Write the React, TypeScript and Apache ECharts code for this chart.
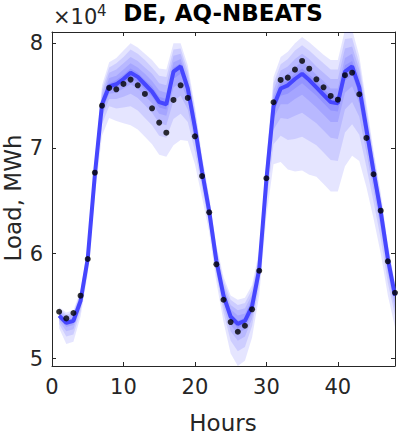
import React, { useEffect, useRef } from "react";
import * as echarts from "echarts";

// Hours of the 48-hour horizon
const hours = [1, 2, 3, 4, 5, 6, 7, 8, 9, 10, 11, 12, 13, 14, 15, 16, 17, 18, 19, 20, 21, 22, 23, 24,
  25, 26, 27, 28, 29, 30, 31, 32, 33, 34, 35, 36, 37, 38, 39, 40, 41, 42, 43, 44, 45, 46, 47, 48];

// Actual load (x10^4 MWh)
const actual = [5.446, 5.383, 5.434, 5.599, 5.948, 6.769, 7.406, 7.575, 7.562, 7.613,
  7.654, 7.600, 7.518, 7.381, 7.245, 7.149, 7.461, 7.600, 7.480, 7.115,
  6.737, 6.392, 5.897, 5.560, 5.348, 5.256, 5.313, 5.469, 5.836, 6.716,
  7.439, 7.651, 7.673, 7.749, 7.832, 7.758, 7.657, 7.581, 7.499, 7.463,
  7.696, 7.720, 7.515, 7.099, 6.754, 6.407, 5.926, 5.627];

// Median forecast (x10^4 MWh)
const median = [5.41, 5.34, 5.36, 5.55, 5.95, 6.75, 7.42, 7.59, 7.61, 7.66,
  7.72, 7.68, 7.61, 7.54, 7.44, 7.42, 7.73, 7.78, 7.57, 7.20,
  6.78, 6.40, 5.93, 5.60, 5.40, 5.33, 5.36, 5.50, 5.85, 6.70,
  7.40, 7.57, 7.60, 7.66, 7.71, 7.65, 7.58, 7.51, 7.44, 7.43,
  7.73, 7.78, 7.58, 7.18, 6.78, 6.40, 5.95, 5.60];

// Quantile bands, outermost (1) to innermost (5)
const lo1 = [5.29, 5.14, 5.16, 5.40, 5.80, 6.55, 7.12, 7.29, 7.26, 7.24, 7.22, 7.18, 7.11, 7.04, 6.94, 6.92, 7.03, 7.08, 7.07, 6.85,
  6.53, 6.20, 5.73, 5.35, 5.05, 4.93, 4.98, 5.20, 5.60, 6.35, 6.85, 6.87, 6.80, 6.78, 6.79, 6.75, 6.73, 6.66, 6.59, 6.59,
  6.83, 6.93, 6.88, 6.63, 6.33, 6.00, 5.60, 5.30];
const lo2 = [5.33, 5.21, 5.23, 5.45, 5.85, 6.62, 7.23, 7.40, 7.38, 7.39, 7.40, 7.36, 7.29, 7.22, 7.12, 7.10, 7.28, 7.33, 7.25, 6.97,
  6.62, 6.27, 5.80, 5.44, 5.17, 5.07, 5.11, 5.31, 5.69, 6.47, 7.04, 7.12, 7.08, 7.09, 7.11, 7.07, 7.03, 6.96, 6.89, 6.88,
  7.15, 7.23, 7.13, 6.82, 6.49, 6.14, 5.72, 5.41];
const lo3 = [5.36, 5.26, 5.28, 5.49, 5.89, 6.67, 7.30, 7.47, 7.47, 7.49, 7.52, 7.48, 7.41, 7.34, 7.24, 7.22, 7.45, 7.50, 7.37, 7.06,
  6.68, 6.32, 5.85, 5.50, 5.26, 5.17, 5.21, 5.38, 5.75, 6.56, 7.18, 7.29, 7.28, 7.31, 7.34, 7.29, 7.24, 7.17, 7.10, 7.09,
  7.37, 7.44, 7.30, 6.96, 6.60, 6.24, 5.81, 5.48];
const lo4 = [5.38, 5.30, 5.32, 5.52, 5.92, 6.71, 7.35, 7.52, 7.53, 7.57, 7.61, 7.57, 7.50, 7.43, 7.33, 7.31, 7.58, 7.63, 7.46, 7.12,
  6.73, 6.36, 5.89, 5.55, 5.32, 5.24, 5.28, 5.43, 5.80, 6.62, 7.28, 7.42, 7.42, 7.47, 7.51, 7.45, 7.39, 7.32, 7.25, 7.25,
  7.53, 7.59, 7.43, 7.06, 6.68, 6.31, 5.87, 5.53];
const lo5 = [5.40, 5.32, 5.34, 5.54, 5.94, 6.73, 7.39, 7.56, 7.57, 7.62, 7.67, 7.63, 7.56, 7.49, 7.39, 7.37, 7.66, 7.71, 7.52, 7.17,
  6.76, 6.38, 5.91, 5.58, 5.37, 5.29, 5.32, 5.47, 5.83, 6.67, 7.35, 7.50, 7.52, 7.57, 7.62, 7.56, 7.50, 7.43, 7.36, 7.35,
  7.64, 7.70, 7.51, 7.13, 6.74, 6.36, 5.92, 5.57];
const hi5 = [5.42, 5.36, 5.38, 5.57, 5.97, 6.77, 7.45, 7.62, 7.65, 7.70, 7.76, 7.72, 7.65, 7.59, 7.49, 7.47, 7.77, 7.81, 7.60, 7.23,
  6.80, 6.42, 5.95, 5.63, 5.43, 5.36, 5.39, 5.53, 5.88, 6.73, 7.44, 7.62, 7.65, 7.71, 7.76, 7.70, 7.64, 7.57, 7.50, 7.49,
  7.79, 7.83, 7.63, 7.22, 6.81, 6.43, 5.97, 5.62];
const hi4 = [5.44, 5.37, 5.39, 5.58, 5.99, 6.80, 7.48, 7.67, 7.69, 7.75, 7.81, 7.77, 7.71, 7.64, 7.55, 7.53, 7.82, 7.85, 7.64, 7.27,
  6.83, 6.45, 5.98, 5.66, 5.47, 5.41, 5.43, 5.57, 5.91, 6.77, 7.49, 7.67, 7.71, 7.77, 7.83, 7.77, 7.70, 7.64, 7.57, 7.57,
  7.86, 7.90, 7.68, 7.26, 6.85, 6.46, 6.00, 5.64];
const hi3 = [5.45, 5.40, 5.42, 5.61, 6.02, 6.83, 7.52, 7.72, 7.75, 7.81, 7.87, 7.83, 7.77, 7.71, 7.62, 7.60, 7.88, 7.90, 7.69, 7.31,
  6.86, 6.48, 6.01, 5.70, 5.51, 5.46, 5.48, 5.61, 5.95, 6.81, 7.55, 7.74, 7.78, 7.85, 7.90, 7.85, 7.78, 7.72, 7.66, 7.66,
  7.95, 7.97, 7.75, 7.32, 6.89, 6.50, 6.03, 5.67];
const hi2 = [5.47, 5.42, 5.44, 5.63, 6.04, 6.87, 7.56, 7.77, 7.81, 7.87, 7.94, 7.90, 7.84, 7.77, 7.69, 7.68, 7.94, 7.95, 7.74, 7.36,
  6.90, 6.52, 6.05, 5.74, 5.56, 5.51, 5.53, 5.66, 5.99, 6.86, 7.62, 7.80, 7.85, 7.93, 7.98, 7.93, 7.87, 7.81, 7.75, 7.75,
  8.04, 8.05, 7.81, 7.38, 6.94, 6.54, 6.07, 5.69];
const hi1 = [5.49, 5.44, 5.46, 5.65, 6.07, 6.90, 7.60, 7.82, 7.86, 7.93, 8.00, 7.96, 7.90, 7.84, 7.76, 7.75, 8.00, 8.00, 7.79, 7.40,
  6.93, 6.55, 6.08, 5.78, 5.60, 5.56, 5.58, 5.70, 6.03, 6.90, 7.68, 7.87, 7.92, 8.00, 8.06, 8.01, 7.95, 7.89, 7.84, 7.84,
  8.13, 8.13, 7.88, 7.43, 6.98, 6.58, 6.10, 5.72];

const bandLows = [lo1, lo2, lo3, lo4, lo5];
const bandHighs = [hi1, hi2, hi3, hi4, hi5];

const yTicks = [5, 6, 7, 8];
const xTicks = [0, 10, 20, 30, 40];
const titleText = "DE, AQ-NBEATS";
const xLabel = "Hours";
const yLabel = "Load, MWh";

export default function App() {
  const ref = useRef<HTMLDivElement>(null);
  useEffect(() => {
    document.body.style.margin = "0";
    const chart = echarts.init(ref.current!, null, { renderer: "svg" });
    const font = "DejaVu Sans";
    const axisColor = "#262626";

    const bandSeries = {
      type: "custom",
      coordinateSystem: "cartesian2d",
      xAxisIndex: 0,
      yAxisIndex: 0,
      silent: true,
      z: 1,
      data: bandLows.map((_, k) => [k]),
      encode: { x: -1, y: -1 },
      renderItem: (params: any, api: any) => {
        const k = params.dataIndex;
        const lo = bandLows[k];
        const hi = bandHighs[k];
        const upper = hours.map((h, i) => api.coord([h, hi[i]]));
        const lower = hours.map((h, i) => api.coord([h, lo[i]])).reverse();
        const cs = params.coordSys;
        return {
          type: "group",
          clipPath: { type: "rect", shape: { x: cs.x, y: cs.y, width: cs.width, height: cs.height } },
          children: [
            { type: "polygon", shape: { points: upper.concat(lower) }, style: { fill: "rgba(0,0,255,0.1)", stroke: "none" } },
          ],
        };
      },
    };

    const series: any[] = [bandSeries];
    series.push({
      type: "line", data: hours.map((h, i) => [h, median[i]]), symbol: "none",
      lineStyle: { color: "#4646ff", width: 4 }, z: 2, silent: true,
    });
    series.push({
      type: "scatter", data: hours.map((h, i) => [h, actual[i]]), symbolSize: 6,
      itemStyle: { color: "#000" }, z: 3, silent: true,
    });

    const xBase = {
      type: "value", min: 0, max: 48,
      axisLine: { show: true, onZero: false, lineStyle: { color: axisColor, width: 1 } },
      axisTick: { show: true, inside: true, length: 4, customValues: xTicks, lineStyle: { color: axisColor } },
      splitLine: { show: false },
    };
    const yBase = {
      type: "value", min: 4.93, max: 8.107,
      axisLine: { show: true, onZero: false, lineStyle: { color: axisColor, width: 1 } },
      axisTick: { show: true, inside: true, length: 4, customValues: yTicks, lineStyle: { color: axisColor } },
      splitLine: { show: false },
    };

    chart.setOption({
      animation: false,
      grid: { left: 52, right: 4, top: 32, bottom: 69, containLabel: false },
      xAxis: [
        { ...xBase, position: "bottom", axisLabel: { customValues: xTicks, fontFamily: font, fontSize: 21, color: axisColor, margin: 10 } },
        { ...xBase, position: "top", axisLabel: { show: false } },
      ],
      yAxis: [
        { ...yBase, position: "left", axisLabel: { customValues: yTicks, fontFamily: font, fontSize: 21, color: axisColor, margin: 9 } },
        { ...yBase, position: "right", axisLabel: { show: false } },
      ],
      series,
      graphic: [
        { type: "text", x: 223, y: 13, style: { text: titleText, font: `bold 23px "${font}"`, fill: "#000", textAlign: "center", textVerticalAlign: "middle" } },
        { type: "text", x: 53, y: 17, style: { text: "×10", font: `21px "${font}"`, fill: axisColor, textAlign: "left", textVerticalAlign: "middle" } },
        { type: "text", x: 97, y: 11, style: { text: "4", font: `15px "${font}"`, fill: axisColor, textAlign: "left", textVerticalAlign: "middle" } },
        { type: "text", x: 223, y: 423, style: { text: xLabel, font: `23px "${font}"`, fill: axisColor, textAlign: "center", textVerticalAlign: "middle" } },
        { type: "text", x: 13, y: 198, rotation: Math.PI / 2, style: { text: yLabel, font: `23px "${font}"`, fill: axisColor, textAlign: "center", textVerticalAlign: "middle" } },
      ],
    });
    return () => chart.dispose();
  }, []);
  return <div ref={ref} style={{ width: 399, height: 435 }} />;
}
